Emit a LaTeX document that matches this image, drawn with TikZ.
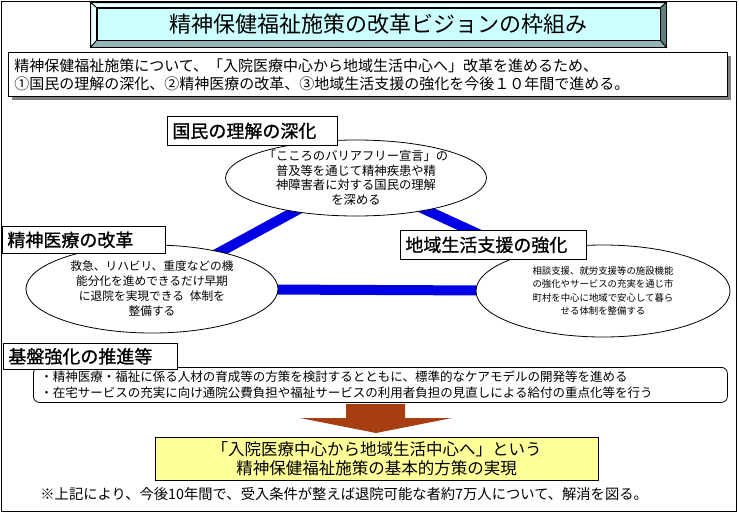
\documentclass[tikz,border=0pt]{standalone}
\usepackage{fontspec}
\setmainfont{Noto Sans CJK JP}
\newfontfamily\headfont{Noto Sans CJK JP}[FakeBold=1]
\usetikzlibrary{shapes,shadows,backgrounds}
\definecolor{titlecyan}{RGB}{204,255,255}
\definecolor{bevellight}{RGB}{236,255,255}
\definecolor{bevelmid}{RGB}{150,182,182}
\definecolor{beveldark}{RGB}{96,128,128}
\definecolor{shadowgray}{RGB}{128,128,128}
\definecolor{triblue}{RGB}{0,0,230}
\definecolor{arrowbrown}{RGB}{166,62,18}
\definecolor{goalyellow}{RGB}{255,255,153}

\begin{document}
\begin{tikzpicture}[x=1pt, y=-1pt, line width=0.8pt,
    heading/.style={draw, fill=white, anchor=north west, inner xsep=5pt, inner ysep=0pt, align=left, font=\headfont\fontsize{18}{20}\selectfont},
    oval/.style={draw, fill=white, ellipse, inner sep=0pt, align=center}]
    \useasboundingbox (0,0) rectangle (739,514);
    \draw (1.5,1.5) rectangle (736.5,511.5);

    % title with bevel
    \node[draw, minimum width=575pt, minimum height=44pt] (titleframe) at (378.5,25) {};
    \node[draw, fill=titlecyan, minimum width=563pt, minimum height=32pt, font=\fontsize{22}{24}\selectfont] (title) at (378.5,24) {精神保健福祉施策の改革ビジョンの枠組み};
    \filldraw[fill=bevellight] (titleframe.north west) -- (titleframe.north east) -- (title.north east) -- (title.north west) -- cycle;
    \filldraw[fill=bevellight] (titleframe.north west) -- (title.north west) -- (title.south west) -- (titleframe.south west) -- cycle;
    \filldraw[fill=bevelmid] (titleframe.south west) -- (title.south west) -- (title.south east) -- (titleframe.south east) -- cycle;
    \filldraw[fill=beveldark] (titleframe.north east) -- (title.north east) -- (title.south east) -- (titleframe.south east) -- cycle;

    \node[draw, fill=white, anchor=north west, text width=707pt, inner xsep=6pt, minimum height=44pt, align=left, font=\fontsize{15}{18}\selectfont,
          drop shadow={shadow xshift=4pt, shadow yshift=-4pt, fill=shadowgray, opacity=1}] (intro) at (8,52)
        {精神保健福祉施策について、「入院医療中心から地域生活中心へ」改革を進めるため、\\①国民の理解の深化、②精神医療の改革、③地域生活支援の強化を今後１０年間で進める。};

    % three pillars
    \node[oval, inner ysep=-3pt, minimum width=250pt, minimum height=76pt, font=\fontsize{12.3}{14.5}\selectfont] (topoval) at (356,178)
        {「こころのバリアフリー宣言」の\\普及等を通じて精神疾患や精\\神障害者に対する国民の理解\\を深める};
    \node[oval, minimum width=252pt, minimum height=88pt, font=\fontsize{11.7}{15}\selectfont] (leftoval) at (152,289)
        {救急、リハビリ、重度などの機\\能分化を進めできるだけ早期\\に退院を実現できる\hspace{0.5em}体制を\\整備する};
    \node[oval, minimum width=254pt, minimum height=92pt, font=\fontsize{9.4}{13.5}\selectfont] (rightoval) at (603,291)
        {相談支援、就労支援等の施設機能\\の強化やサービスの充実を通じ市\\町村を中心に地域で安心して暮ら\\せる体制を整備する};
    \begin{scope}[on background layer]
        \draw[triblue, line width=10pt] (topoval.center) -- (leftoval.center) -- (rightoval.center) -- cycle;
    \end{scope}

    \node[heading, text width=160pt, minimum height=29pt] (understand) at (167,116) {国民の理解の深化};
    \node[heading, text width=153pt, minimum height=27pt] (medical) at (2,226) {精神医療の改革};
    \node[heading, text width=176pt, minimum height=29pt] (community) at (400,230) {地域生活支援の強化};

    % foundation
    \node[draw, fill=white, rounded corners=6pt, anchor=north west, text width=680pt, inner xsep=7pt, minimum height=35pt, align=left, font=\fontsize{12.5}{16}\selectfont] (measures) at (33,367)
        {・精神医療・福祉に係る人材の育成等の方策を検討するとともに、標準的なケアモデルの開発等を進める\\・在宅サービスの充実に向け通院公費負担や福祉サービスの利用者負担の見直しによる給付の重点化等を行う};
    \node[heading, text width=164pt, minimum height=26pt] (foundation) at (3,343) {基盤強化の推進等};

    \fill[arrowbrown] (346,404) -- (405,404) -- (405,418) -- (452,418) -- (376,433) -- (300,418) -- (346,418) -- cycle;

    \node[draw, fill=goalyellow, minimum width=443pt, minimum height=43pt, align=center, font=\fontsize{16.5}{19}\selectfont] (goal) at (376.5,458.5)
        {「入院医療中心から地域生活中心へ」という\\精神保健福祉施策の基本的方策の実現};
    \node[anchor=west, inner sep=0pt, font=\fontsize{14.3}{16}\selectfont] (note) at (40,494)
        {※上記により、今後10年間で、受入条件が整えば退院可能な者約7万人について、解消を図る。};
\end{tikzpicture}
\end{document}
